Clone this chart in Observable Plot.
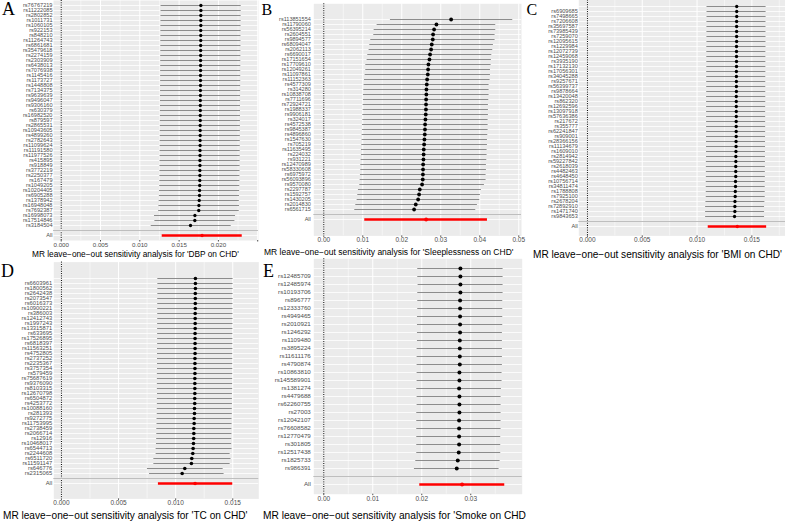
<!DOCTYPE html>
<html>
<head>
<meta charset="utf-8">
<script src="https://cdn.jsdelivr.net/npm/d3@7"></script>
<script src="https://cdn.jsdelivr.net/npm/@observablehq/plot@0.6"></script>
<style>
  html, body { margin: 0; padding: 0; background: #ffffff; }
  #page { position: relative; width: 785px; height: 523px; overflow: hidden; background: #ffffff; }
  .panel { position: absolute; }
  .panel svg { overflow: visible; background: transparent; display: block; }
  #labels { position: absolute; left: 0; top: 0; pointer-events: none; }
</style>
</head>
<body>
<div id="page"></div>
<script>
// Leave-one-out MR estimates (beta, lower and upper 95% CI) per SNP.
// "All" holds the estimate using every instrument.

// A: DBP on CHD
const snpA = ["rs76767219","rs11222085","rs2802852","rs1011731","rs1060105","rs922153","rs848210","rs11264743","rs6861681","rs35479618","rs2274159","rs2303909","rs6438013","rs7076938","rs1145416","rs1173727","rs1448808","rs7134375","rs9639639","rs9496047","rs9306160","rs630379","rs16982520","rs879597","rs2865531","rs10943605","rs4899260","rs2782643","rs11099624","rs11191580","rs11977526","rs415895","rs918849","rs3772219","rs2250377","rs167479","rs1049205","rs10204405","rs6905288","rs1378942","rs16948048","rs7692387","rs16998073","rs17514846","rs3184504"];
const bA = [0.01777,0.01777,0.01776,0.01776,0.01776,0.01775,0.01775,0.01775,0.01774,0.01774,
  0.01774,0.01773,0.01773,0.01773,0.01772,0.01772,0.01772,0.01771,0.01771,0.01770,
  0.01770,0.01770,0.01769,0.01769,0.01768,0.01768,0.01768,0.01767,0.01767,0.01766,
  0.01766,0.01765,0.01765,0.01764,0.01764,0.01763,0.01762,0.01760,0.01759,0.01756,
  0.01752,0.01750,0.01701,0.01700,0.01645];
const loA = [0.01270,0.01270,0.01269,0.01269,0.01268,0.01268,0.01268,0.01267,0.01267,0.01267,
  0.01266,0.01266,0.01266,0.01265,0.01265,0.01265,0.01264,0.01264,0.01263,0.01263,
  0.01263,0.01262,0.01262,0.01261,0.01261,0.01260,0.01260,0.01259,0.01259,0.01258,
  0.01258,0.01257,0.01256,0.01256,0.01255,0.01254,0.01253,0.01250,0.01249,0.01246,
  0.01243,0.01240,0.01187,0.01192,0.01145];
const hiA = [0.02290,0.02290,0.02289,0.02289,0.02288,0.02288,0.02287,0.02287,0.02287,0.02286,
  0.02286,0.02285,0.02285,0.02284,0.02284,0.02284,0.02283,0.02283,0.02282,0.02282,
  0.02281,0.02281,0.02281,0.02280,0.02280,0.02279,0.02279,0.02278,0.02278,0.02277,
  0.02277,0.02276,0.02276,0.02275,0.02274,0.02273,0.02272,0.02270,0.02269,0.02266,
  0.02269,0.02265,0.02218,0.02210,0.02163];
const allA = [0.01792, 0.01285, 0.02303];

// B: Sleeplessness on CHD
const snpB = ["rs113851554","rs11790060","rs56395214","rs2604551","rs9894577","rs68094047","rs2062113","rs6690017","rs17151654","rs17709610","rs12049261","rs11097861","rs11152363","rs4577309","rs314280","rs10838708","rs7711696","rs72924721","rs1988337","rs9906181","rs324017","rs4572538","rs9845387","rs4896860","rs1547630","rs705219","rs11635495","rs224032","rs931221","rs12470989","rs58330608","rs6975972","rs56093896","rs9570080","rs2297787","rs1592757","rs1430205","rs2014830","rs6561715"];
const bB = [0.03265,0.02889,0.02829,0.02803,0.02795,0.02769,0.02752,0.02726,0.02709,0.02684,
  0.02675,0.02667,0.02650,0.02641,0.02632,0.02630,0.02624,0.02622,0.02620,0.02615,
  0.02607,0.02598,0.02595,0.02590,0.02581,0.02573,0.02564,0.02560,0.02556,0.02547,
  0.02545,0.02542,0.02538,0.02521,0.02462,0.02444,0.02419,0.02359,0.02316];
const loB = [0.01709,0.01368,0.01291,0.01282,0.01205,0.01179,0.01162,0.01128,0.01111,0.01077,
  0.01077,0.01060,0.01043,0.01034,0.01026,0.01017,0.01017,0.01009,0.01009,0.01000,
  0.01000,0.00991,0.00991,0.00983,0.00983,0.00974,0.00966,0.00966,0.00957,0.00949,
  0.00949,0.00940,0.00932,0.00923,0.00889,0.00872,0.00855,0.00821,0.00795];
const hiB = [0.04846,0.04410,0.04410,0.04393,0.04393,0.04350,0.04333,0.04308,0.04299,0.04291,
  0.04274,0.04274,0.04265,0.04239,0.04239,0.04239,0.04231,0.04222,0.04222,0.04222,
  0.04214,0.04214,0.04214,0.04205,0.04197,0.04197,0.04188,0.04188,0.04180,0.04171,
  0.04171,0.04162,0.04162,0.04120,0.04043,0.04017,0.04000,0.03940,0.03897];
const allB = [0.02624, 0.01051, 0.04197];

// C: BMI on CHD (top row label sits outside the figure)
const snpC = ["","rs6909685","rs7498665","rs7206608","rs35697587","rs73985439","rs7259070","rs12095615","rs1229984","rs12072739","rs12459068","rs3935190","rs17132130","rs17056301","rs34045288","rs9257671","rs56399737","rs9878664","rs13420048","rs862320","rs12692596","rs13097918","rs57636386","rs217672","rs355777","rs62241847","rs909001","rs28366156","rs11134679","rs1609010","rs2814942","rs59227842","rs2618039","rs4482463","rs4648450","rs10756714","rs34811474","rs1788808","rs7925100","rs2678204","rs72892910","rs1471740","rs9843653"];
const bC = [0.01362,0.01362,0.01362,0.01361,0.01361,0.01361,0.01361,0.01361,0.01360,0.01360,0.01360,
  0.01360,0.01360,0.01359,0.01359,0.01359,0.01359,0.01359,0.01358,0.01358,0.01358,
  0.01358,0.01358,0.01357,0.01357,0.01357,0.01357,0.01356,0.01356,0.01355,0.01354,
  0.01354,0.01353,0.01353,0.01353,0.01351,0.01351,0.01349,0.01348,0.01346,0.01345,
  0.01345,0.01342];
const loC = [0.01091,0.01091,0.01091,0.01090,0.01090,0.01090,0.01090,0.01090,0.01089,0.01089,0.01089,
  0.01089,0.01089,0.01088,0.01088,0.01088,0.01088,0.01088,0.01087,0.01087,0.01087,
  0.01087,0.01087,0.01087,0.01087,0.01087,0.01086,0.01086,0.01086,0.01086,0.01086,
  0.01085,0.01085,0.01085,0.01085,0.01084,0.01084,0.01084,0.01084,0.01081,0.01078,
  0.01078,0.01078];
const hiC = [0.01630,0.01630,0.01630,0.01629,0.01629,0.01629,0.01629,0.01629,0.01629,0.01628,0.01628,
  0.01628,0.01628,0.01628,0.01627,0.01627,0.01627,0.01627,0.01627,0.01627,0.01626,
  0.01626,0.01626,0.01626,0.01626,0.01626,0.01625,0.01625,0.01625,0.01624,0.01624,
  0.01624,0.01623,0.01623,0.01623,0.01622,0.01622,0.01622,0.01622,0.01619,0.01616,
  0.01616,0.01616];
const allC = [0.01367, 0.01102, 0.01635];

// D: TC on CHD
const snpD = ["","rs6603961","rs1800562","rs2642438","rs2073547","rs6016373","rs10900221","rs386003","rs12412743","rs1997243","rs13315871","rs633695","rs17526895","rs6818397","rs11563251","rs4752805","rs2737252","rs2235367","rs3757354","rs579459","rs75687619","rs9376090","rs8103315","rs12670798","rs6504872","rs4253772","rs10088160","rs281393","rs9272775","rs11753995","rs2738459","rs2066714","rs12916","rs10468017","rs6544713","rs2244608","rs6511720","rs11591147","rs646776","rs2315065"];
const bD = [0.01173,0.01173,0.01173,0.01172,0.01172,0.01172,0.01172,0.01171,0.01171,0.01171,0.01171,
  0.01170,0.01170,0.01170,0.01170,0.01170,0.01169,0.01169,0.01169,0.01169,0.01168,
  0.01168,0.01168,0.01168,0.01167,0.01167,0.01165,0.01165,0.01162,0.01162,0.01159,
  0.01159,0.01158,0.01156,0.01153,0.01150,0.01141,0.01138,0.01080,0.01057];
const loD = [0.00844,0.00844,0.00844,0.00844,0.00843,0.00843,0.00843,0.00843,0.00843,0.00842,0.00842,
  0.00842,0.00842,0.00842,0.00841,0.00841,0.00841,0.00841,0.00841,0.00840,0.00840,
  0.00840,0.00840,0.00841,0.00840,0.00840,0.00839,0.00839,0.00837,0.00837,0.00835,
  0.00835,0.00834,0.00832,0.00829,0.00829,0.00809,0.00809,0.00753,0.00771];
const hiD = [0.01503,0.01503,0.01503,0.01503,0.01503,0.01502,0.01502,0.01502,0.01502,0.01502,0.01501,
  0.01501,0.01501,0.01501,0.01501,0.01500,0.01500,0.01500,0.01500,0.01500,0.01499,
  0.01499,0.01499,0.01497,0.01497,0.01497,0.01496,0.01496,0.01494,0.01494,0.01493,
  0.01493,0.01492,0.01491,0.01494,0.01477,0.01485,0.01477,0.01416,0.01424];
const allD = [0.01170, 0.00849, 0.01500];

// E: Smoke on CHD
const snpE = ["","rs12485709","rs12485974","rs10193706","rs896777","rs12333760","rs4949465","rs2010921","rs1246292","rs1109480","rs3895224","rs11611176","rs4790874","rs10863810","rs145589901","rs1381274","rs4479688","rs62260755","rs27003","rs12042107","rs76608582","rs12770479","rs301805","rs12517438","rs1825733","rs986391"];
const bE = [0.02789,0.02789,0.02789,0.02789,0.02782,0.02782,0.02782,0.02782,0.02782,0.02776,0.02776,
  0.02776,0.02776,0.02769,0.02769,0.02762,0.02769,0.02769,0.02769,0.02762,0.02762,
  0.02762,0.02762,0.02755,0.02735,0.02714];
const loE = [0.01918,0.01918,0.01925,0.01918,0.01918,0.01918,0.01912,0.01912,0.01912,0.01912,0.01905,
  0.01905,0.01905,0.01905,0.01905,0.01898,0.01905,0.01905,0.01898,0.01898,0.01898,
  0.01898,0.01898,0.01898,0.01878,0.01850];
const hiE = [0.03660,0.03660,0.03660,0.03660,0.03653,0.03653,0.03653,0.03653,0.03646,0.03646,0.03646,
  0.03646,0.03646,0.03639,0.03639,0.03626,0.03619,0.03619,0.03619,0.03619,0.03619,
  0.03612,0.03612,0.03612,0.03599,0.03578];
const allE = [0.02823, 0.01959, 0.03694];

const titles = {
  A: "MR leave\u2212one\u2212out sensitivity analysis for 'DBP on CHD'",
  B: "MR leave\u2212one\u2212out sensitivity analysis for 'Sleeplessness on CHD'",
  C: "MR leave\u2212one\u2212out sensitivity analysis for 'BMI on CHD'",
  D: "MR leave\u2212one\u2212out sensitivity analysis for 'TC on CHD'",
  E: "MR leave\u2212one\u2212out sensitivity analysis for 'Smoke on CHD"
};

const FONT = "'Liberation Sans', Arial, Helvetica, sans-serif";
const page = document.getElementById("page");

// One leave-one-out forest panel: SNP rows, an empty separator row, then "All".
function forest(cfg) {
  const n = cfg.snp.length;
  const labels = [...cfg.snp, "", "All"];
  const rows = cfg.snp.map((s, i) => ({i, b: cfg.b[i], lo: cfg.lo[i], hi: cfg.hi[i]}));
  const total = [{i: n + 1, b: cfg.all[0], lo: cfg.all[1], hi: cfg.all[2]}];
  const fmt = d3.format(cfg.fmt);
  const xfmt = d => cfg.hideTick != null && Math.abs(d - cfg.hideTick) < 1e-9 ? "" : fmt(d);
  return Plot.plot({
    width: cfg.width,
    height: cfg.height,
    marginLeft: cfg.ml,
    marginRight: cfg.mr,
    marginTop: cfg.mt,
    marginBottom: cfg.mb,
    style: {fontFamily: FONT, background: "transparent", overflow: "visible"},
    x: {domain: cfg.xDomain, label: null},
    y: {type: "point", domain: d3.range(n + 2), padding: 0.6, label: null},
    marks: [
      Plot.frame({fill: "#EBEBEB", stroke: "none"}),
      Plot.ruleX(cfg.minor, {stroke: "#ffffff", strokeWidth: 0.5}),
      Plot.ruleX(cfg.ticks, {stroke: "#ffffff", strokeWidth: 1}),
      Plot.ruleY(d3.range(n + 2), {stroke: "#ffffff", strokeWidth: 0.8}),
      Plot.ruleX([0], {stroke: "#000000", strokeWidth: 1, strokeDasharray: "1,1.3"}),
      Plot.ruleY([n], {stroke: "#BEBEBE", strokeWidth: 1}),
      Plot.ruleY(rows, {y: "i", x1: "lo", x2: "hi", stroke: "#5c5c5c", strokeWidth: 0.7}),
      Plot.ruleY(total, {y: "i", x1: "lo", x2: "hi", stroke: "#FF0000", strokeWidth: 2.4}),
      Plot.dot(rows, {x: "b", y: "i", r: cfg.r, fill: "#000000"}),
      Plot.dot(total, {x: "b", y: "i", r: cfg.r, fill: "#FF0000"}),
      Plot.axisX({ticks: cfg.ticks, tickFormat: xfmt, tickSize: 1.5, tickPadding: 0.3,
        fontSize: cfg.xfs, color: "#4D4D4D", label: null}),
      Plot.axisY({tickSize: 0, tickPadding: cfg.ypad, tickFormat: i => labels[i],
        fontSize: cfg.yfs, color: "#4D4D4D", label: null})
    ]
  });
}

function place(chart, left, top) {
  const div = document.createElement("div");
  div.className = "panel";
  div.style.left = left + "px";
  div.style.top = top + "px";
  div.appendChild(chart);
  page.appendChild(div);
}

place(forest({snp: snpA, b: bA, lo: loA, hi: hiA, all: allA,
  width: 262, height: 250, ml: 53, mr: 4, mt: 0, mb: 10,
  xDomain: [-0.00098, 0.0251], ticks: [0, 0.005, 0.01, 0.015, 0.02, 0.025],
  minor: [0.0025, 0.0075, 0.0125, 0.0175, 0.0225], hideTick: 0.025,
  fmt: ".3f", xfs: 6.2, yfs: 5.6, ypad: 1, r: 1.65}), 0, 0);

place(forest({snp: snpB, b: bB, lo: loB, hi: hiB, all: allB,
  width: 265, height: 250, ml: 53.3, mr: 4, mt: 3.3, mb: 14.6,
  xDomain: [-0.00256, 0.0507], ticks: [0, 0.01, 0.02, 0.03, 0.04, 0.05],
  minor: [0.005, 0.015, 0.025, 0.035, 0.045],
  fmt: ".2f", xfs: 6.5, yfs: 5.5, ypad: 3, r: 1.9}), 260, 0);

place(forest({snp: snpC, b: bC, lo: loC, hi: hiC, all: allC,
  width: 260, height: 253, ml: 53.3, mr: 0, mt: 0.3, mb: 14.6,
  xDomain: [-0.00079, 0.01807], ticks: [0, 0.005, 0.01, 0.015],
  minor: [0.0025, 0.0075, 0.0125, 0.0175],
  fmt: ".3f", xfs: 6.5, yfs: 5.6, ypad: 1, r: 1.65}), 525, -3);

place(forest({snp: snpD, b: bD, lo: loD, hi: hiD, all: allD,
  width: 262, height: 263, ml: 53.3, mr: 3.7, mt: 1.6, mb: 24.6,
  xDomain: [-0.00067, 0.01728], ticks: [0, 0.005, 0.01, 0.015],
  minor: [0.0025, 0.0075, 0.0125],
  fmt: ".3f", xfs: 6.5, yfs: 5.8, ypad: 1.6, r: 1.8}), 0, 260);

place(forest({snp: snpE, b: bE, lo: loE, hi: hiE, all: allE,
  width: 265, height: 265, ml: 53.3, mr: 3.3, mt: 0.3, mb: 29.3,
  xDomain: [-0.00204, 0.0405], ticks: [0, 0.01, 0.02, 0.03],
  minor: [0.005, 0.015, 0.025, 0.035],
  fmt: ".2f", xfs: 6.5, yfs: 6.2, ypad: 3, r: 2}), 260, 258);

// Panel letters and axis titles
const overlay = d3.select(page).append("svg")
  .attr("id", "labels").attr("width", 785).attr("height", 523);

const letters = [
  {t: "A", x: 2, y: 15, s: 18},
  {t: "B", x: 261.5, y: 15, s: 16},
  {t: "C", x: 526.5, y: 15, s: 16},
  {t: "D", x: 1, y: 276.7, s: 18},
  {t: "E", x: 263, y: 276.7, s: 18}
];
overlay.selectAll("text.letter").data(letters).join("text")
  .attr("class", "letter")
  .attr("x", d => d.x).attr("y", d => d.y)
  .attr("font-family", "'Liberation Serif', 'Times New Roman', serif")
  .attr("font-size", d => d.s).attr("fill", "#000")
  .text(d => d.t);

const heads = [
  {t: titles.A, x: 32, y: 257, s: 8.3},
  {t: titles.B, x: 264, y: 255.3, s: 8.5},
  {t: titles.C, x: 533, y: 257.6, s: 10.1},
  {t: titles.D, x: 3, y: 518.6, s: 10.1},
  {t: titles.E, x: 263, y: 518.6, s: 10.2}
];
overlay.selectAll("text.head").data(heads).join("text")
  .attr("class", "head")
  .attr("x", d => d.x).attr("y", d => d.y)
  .attr("font-family", FONT)
  .attr("font-size", d => d.s).attr("fill", "#000")
  .text(d => d.t);
</script>
</body>
</html>
